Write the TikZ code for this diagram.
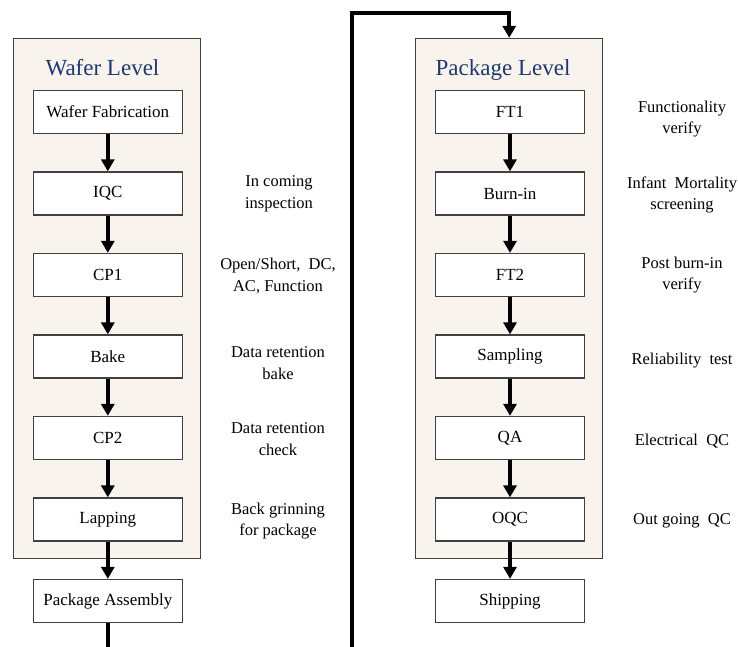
\documentclass[tikz,border=0pt]{standalone}
\usepackage{fontspec}
\setmainfont{Liberation Serif}
\usepackage{tikz}
\usetikzlibrary{arrows.meta,positioning}
\definecolor{mybeige}{RGB}{248,244,237}
\definecolor{mynavy}{RGB}{31,56,110}
\definecolor{myedge}{RGB}{64,64,64}

\begin{document}
\begin{tikzpicture}[
  x=1pt, y=-1pt,
  mylevel/.style={
    draw=myedge,
    line width=1.3pt,
    fill=mybeige,
    minimum width=187pt,
    minimum height=520pt
    },
  mytitle/.style={
    text=mynavy,
    anchor=base,
    font=\fontsize{23}{26}\selectfont
    },
  mybox/.style={
    draw=myedge,
    line width=1.3pt,
    fill=white,
    minimum width=149pt,
    minimum height=43pt,
    inner sep=0pt,
    font=\fontsize{17}{20}\selectfont
    },
  mynote/.style={
    align=center,
    inner sep=0pt,
    font=\fontsize{16.5}{21.5}\selectfont
    },
  myflow/.style={
    line width=4pt,
    line join=miter,
    -{Triangle[width=13pt,length=12pt]}
    }
]

\useasboundingbox (0,0) rectangle (738,646);
\clip (0,0) rectangle (738,646);

% the two levels
\node[mylevel] (wafer) at (106.7,298.5) {};
\node[mylevel] (pkg) at (509.2,298.5) {};
\node[mytitle] (wafertitle) at (102.5,75) {Wafer Level};
\node[mytitle] (pkgtitle) at (503,75) {Package Level};

% wafer level steps
\node[mybox] (fab) at (107.8,112) {Wafer Fabrication};
\node[mybox, below=37.2pt of fab] (iqc) {IQC};
\node[mybox, below=37.2pt of iqc] (cpone) {CP1};
\node[mybox, below=37.2pt of cpone] (bake) {Bake};
\node[mybox, below=37.2pt of bake] (cptwo) {CP2};
\node[mybox, below=37.2pt of cptwo] (lap) {Lapping};
\node[mybox, below=37.2pt of lap] (assy) {Package Assembly};

% package level steps
\node[mybox] (ftone) at (510,112) {FT1};
\node[mybox, below=37.2pt of ftone] (burnin) {Burn-in};
\node[mybox, below=37.2pt of burnin] (fttwo) {FT2};
\node[mybox, below=37.2pt of fttwo] (sampl) {Sampling};
\node[mybox, below=37.2pt of sampl] (qa) {QA};
\node[mybox, below=37.2pt of qa] (oqc) {OQC};
\node[mybox, below=37.2pt of oqc] (ship) {Shipping};

% notes
\node[mynote] (niqc) at (279,194) {In coming\\inspection};
\node[mynote] (ncpone) at (278,276) {Open/Short,\ \ DC,\\AC, Function};
\node[mynote] (nbake) at (278,363) {Data retention\\bake};
\node[mynote] (ncptwo) at (278,439) {Data retention\\check};
\node[mynote] (nlap) at (278,521) {Back grinning\\for package};

\node[mynote] (nftone) at (682,119) {Functionality\\verify};
\node[mynote] (nburnin) at (682,195) {Infant\ \ Mortality\\screening};
\node[mynote] (nfttwo) at (682,275) {Post burn-in\\verify};
\node[mynote] (nsampl) at (682,361) {Reliability\ \ test};
\node[mynote] (nqa) at (682,441) {Electrical\ \ QC};
\node[mynote] (noqc) at (682,521) {Out going\ \ QC};

% flow
\foreach \a/\b in {fab/iqc, iqc/cpone, cpone/bake, bake/cptwo, cptwo/lap, lap/assy,
                   ftone/burnin, burnin/fttwo, fttwo/sampl, sampl/qa, qa/oqc, oqc/ship}
  \draw[myflow] (\a.south) -- (\b.north);

\coordinate (bot) at (352,680);
\coordinate (top) at (352,12.5);
\draw[myflow] (assy.south) |- (bot) -- (top) -| (pkg.north);

\end{tikzpicture}
\end{document}
